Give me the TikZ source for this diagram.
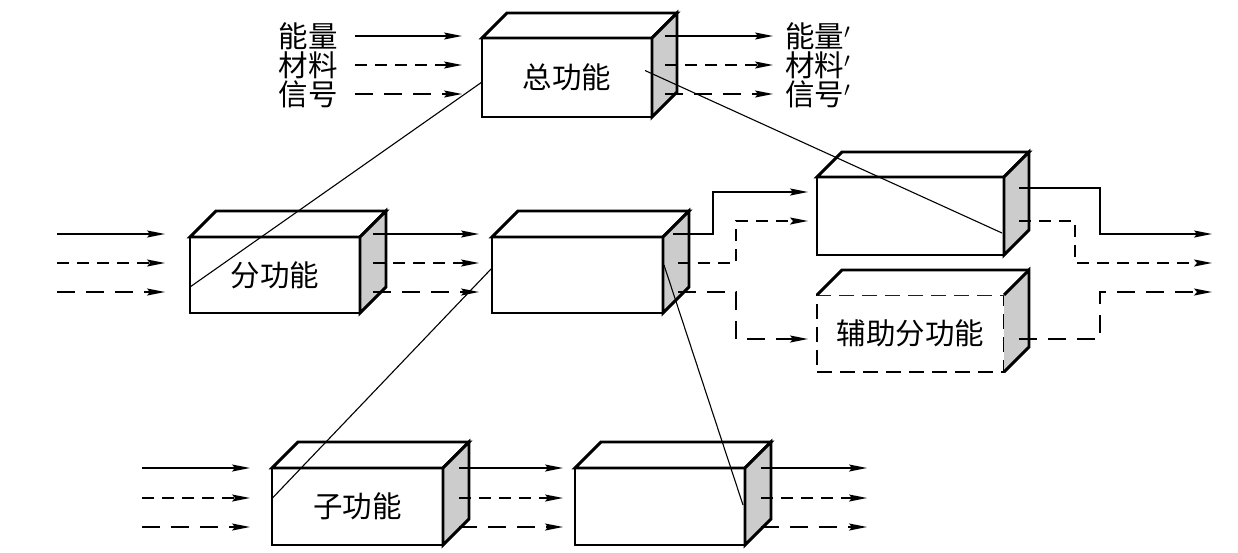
\documentclass[tikz,border=0pt]{standalone}
\usepackage{fontspec}
\newfontfamily\cjk{Noto Sans CJK SC}
\usetikzlibrary{arrows.meta,calc}
\definecolor{sidegray}{gray}{0.8}
\newcommand{\cuboid}[7]{%
  \node[front, minimum width=#4pt, minimum height=#5pt] (#1) at (#2,#3) {#7};
  \draw[edge, fill=white] (#1.north west) -- ++(#6,-#6) -- ([shift={(#6,-#6)}]#1.north east) -- (#1.north east) -- cycle;
  \draw[edge, fill=sidegray] (#1.north east) -- ++(#6,-#6) -- ([shift={(#6,-#6)}]#1.south east) -- (#1.south east) -- cycle;
}
\begin{document}
\begin{tikzpicture}[x=1pt,y=-1pt,
  edge/.style={line width=2.9pt, line join=miter},
  front/.style={draw, edge, fill=white, rectangle, inner sep=0pt, outer sep=0pt, font=\cjk\fontsize{29.5}{32}\selectfont},
  flow/.style={line width=1.3pt, -{Stealth[length=18pt,width=7pt,inset=3pt]}},
  d1/.style={dash pattern=on 12pt off 8pt},
  d2/.style={dash pattern=on 18pt off 11pt},
  thinline/.style={line width=1.1pt},
  lab/.style={font=\cjk\fontsize{29.5}{32}\selectfont, inner sep=0pt}
]
\useasboundingbox[fill=white] (0,0) rectangle (1238,552);

% boxes
\cuboid{total}{567}{77.5}{170}{79}{25}{总功能}
\cuboid{sub1}{275}{275}{170}{76}{26}{分功能}
\cuboid{sub2}{577.5}{275}{171}{76}{26}{}
\cuboid{sub3}{910.5}{216}{187}{78}{25}{}
\cuboid{child1}{357.5}{506.5}{171}{77}{26}{子功能}
\cuboid{child2}{660}{506.5}{170}{77}{26}{}

% auxiliary box (dashed front)
\node[front, dash pattern=on 15pt off 8pt, minimum width=187pt, minimum height=77pt] (aux) at (910.5,333.5) {辅助分功能};
\fill[white] (aux.north west) -- ++(25,-25) -- ([shift={(25,-25)}]aux.north east) -- (aux.north east) -- cycle;
\draw[edge] (aux.north west) -- ++(25,-25) -- ([shift={(25,-25)}]aux.north east);
\fill[sidegray] (aux.north east) -- ++(25,-25) -- ([shift={(25,-25)}]aux.south east) -- (aux.south east) -- cycle;
\draw[edge] (aux.north east) -- ++(25,-25) -- ([shift={(25,-25)}]aux.south east) -- (aux.south east);

% top labels
\node[lab] (inE) at (308,36) {能量};
\node[lab] (inM) at (308,65) {材料};
\node[lab] (inS) at (308,94) {信号};
\node[lab, anchor=west] (outE) at (785,36) {能量$'$};
\node[lab, anchor=west] (outM) at (785,65) {材料$'$};
\node[lab, anchor=west] (outS) at (785,94) {信号$'$};

% top flows
\draw[flow] (355,36) -- (462,36);
\draw[flow,d1] (355,65) -- (462,65);
\draw[flow,d2] (355,94) -- (462,94);
\draw[flow] (665,36) -- (773,36);
\draw[flow,d1] (665,65) -- (773,65);
\draw[flow,d2] (665,94) -- (773,94);

% middle flows
\draw[flow] (57,234) -- (165,234);
\draw[flow,d1] (57,263) -- (165,263);
\draw[flow,d2] (57,292) -- (165,292);
\draw[flow] (373,234) -- (479,234);
\draw[flow,d1] (373,263) -- (479,263);
\draw[flow,d2] (373,292) -- (479,292);
\draw[flow] (673,234) -- (713,234) -- (713,192) -- (808,192);
\draw[flow,d1] (678,263) -- (736,263) -- (736,221) -- (808,221);
\draw[flow,d2] (678,292) -- (736,292) -- (736,339) -- (808,339);
\draw[flow] (1019,188) -- (1100,188) -- (1100,234) -- (1212,234);
\draw[flow,d1] (1019,221) -- (1075,221) -- (1075,263) -- (1212,263);
\draw[flow,d2] (1019,339) -- (1100,339) -- (1100,292) -- (1212,292);

% bottom flows
\draw[flow] (142,468) -- (250,468);
\draw[flow,d1] (142,498) -- (250,498);
\draw[flow,d2] (142,527) -- (250,527);
\draw[flow] (459,468) -- (563,468);
\draw[flow,d1] (459,498) -- (563,498);
\draw[flow,d2] (459,527) -- (563,527);
\draw[flow] (761,468) -- (867,468);
\draw[flow,d1] (761,498) -- (867,498);
\draw[flow,d2] (761,527) -- (867,527);

% decomposition lines
\draw[thinline] ([yshift=-4.5pt]total.west) -- ([yshift=-12pt]sub1.west);
\draw[thinline] ([shift={(-7,-7)}]total.east) -- ([shift={(-2,-22)}]sub3.south east);
\draw[thinline] ([yshift=7pt]sub2.west) -- ([yshift=8pt]child1.west);
\draw[thinline] ([shift={(1,-10)}]sub2.east) -- ([shift={(-2,-1.5)}]child2.east);
\end{tikzpicture}
\end{document}
